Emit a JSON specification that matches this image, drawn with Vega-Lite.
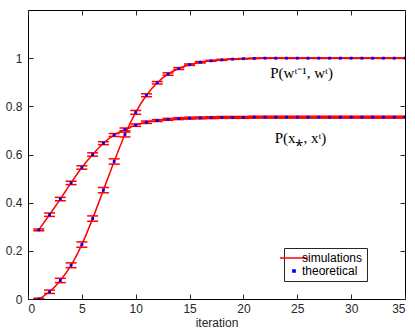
{
  "$schema": "https://vega.github.io/schema/vega-lite/v6.json",
  "autosize": "none",
  "width": 377,
  "height": 289,
  "padding": {"left": 28, "top": 10, "right": 10, "bottom": 36},
  "background": "white",
  "config": {
    "view": {"stroke": "black", "strokeWidth": 1},
    "axis": {"labelFont": "Liberation Sans", "labelFontSize": 12, "labelColor": "#262626", "titleFont": "Liberation Sans", "titleFontSize": 12, "titleFontWeight": "normal", "titleColor": "#262626", "domainColor": "#262626", "tickColor": "#262626", "grid": false}
  },
  "datasets": {
    "sim": [
    {"it":1,"s":"A","v":0.287,"lo":0.283,"hi":0.291},
    {"it":2,"s":"A","v":0.350,"lo":0.343,"hi":0.357},
    {"it":3,"s":"A","v":0.415,"lo":0.408,"hi":0.422},
    {"it":4,"s":"A","v":0.482,"lo":0.475,"hi":0.489},
    {"it":5,"s":"A","v":0.546,"lo":0.539,"hi":0.553},
    {"it":6,"s":"A","v":0.600,"lo":0.593,"hi":0.607},
    {"it":7,"s":"A","v":0.647,"lo":0.641,"hi":0.653},
    {"it":8,"s":"A","v":0.681,"lo":0.675,"hi":0.687},
    {"it":9,"s":"A","v":0.704,"lo":0.698,"hi":0.710},
    {"it":10,"s":"A","v":0.722,"lo":0.717,"hi":0.727},
    {"it":11,"s":"A","v":0.734,"lo":0.729,"hi":0.739},
    {"it":12,"s":"A","v":0.741,"lo":0.737,"hi":0.745},
    {"it":13,"s":"A","v":0.746,"lo":0.742,"hi":0.750},
    {"it":14,"s":"A","v":0.749,"lo":0.745,"hi":0.753},
    {"it":15,"s":"A","v":0.751,"lo":0.747,"hi":0.755},
    {"it":16,"s":"A","v":0.752,"lo":0.748,"hi":0.756},
    {"it":17,"s":"A","v":0.753,"lo":0.749,"hi":0.757},
    {"it":18,"s":"A","v":0.754,"lo":0.750,"hi":0.758},
    {"it":19,"s":"A","v":0.754,"lo":0.750,"hi":0.758},
    {"it":20,"s":"A","v":0.754,"lo":0.750,"hi":0.758},
    {"it":21,"s":"A","v":0.755,"lo":0.751,"hi":0.759},
    {"it":22,"s":"A","v":0.755,"lo":0.751,"hi":0.759},
    {"it":23,"s":"A","v":0.755,"lo":0.751,"hi":0.759},
    {"it":24,"s":"A","v":0.755,"lo":0.751,"hi":0.759},
    {"it":25,"s":"A","v":0.755,"lo":0.751,"hi":0.759},
    {"it":26,"s":"A","v":0.755,"lo":0.751,"hi":0.759},
    {"it":27,"s":"A","v":0.755,"lo":0.751,"hi":0.759},
    {"it":28,"s":"A","v":0.755,"lo":0.751,"hi":0.759},
    {"it":29,"s":"A","v":0.755,"lo":0.751,"hi":0.759},
    {"it":30,"s":"A","v":0.755,"lo":0.751,"hi":0.759},
    {"it":31,"s":"A","v":0.755,"lo":0.751,"hi":0.759},
    {"it":32,"s":"A","v":0.755,"lo":0.751,"hi":0.759},
    {"it":33,"s":"A","v":0.755,"lo":0.751,"hi":0.759},
    {"it":34,"s":"A","v":0.755,"lo":0.751,"hi":0.759},
    {"it":35,"s":"A","v":0.755,"lo":0.751,"hi":0.759},
    {"it":1,"s":"B","v":0.000,"lo":-0.003,"hi":0.003},
    {"it":2,"s":"B","v":0.030,"lo":0.023,"hi":0.037},
    {"it":3,"s":"B","v":0.077,"lo":0.068,"hi":0.086},
    {"it":4,"s":"B","v":0.140,"lo":0.130,"hi":0.150},
    {"it":5,"s":"B","v":0.226,"lo":0.215,"hi":0.237},
    {"it":6,"s":"B","v":0.334,"lo":0.323,"hi":0.345},
    {"it":7,"s":"B","v":0.452,"lo":0.441,"hi":0.463},
    {"it":8,"s":"B","v":0.571,"lo":0.560,"hi":0.582},
    {"it":9,"s":"B","v":0.683,"lo":0.673,"hi":0.693},
    {"it":10,"s":"B","v":0.775,"lo":0.767,"hi":0.783},
    {"it":11,"s":"B","v":0.846,"lo":0.840,"hi":0.852},
    {"it":12,"s":"B","v":0.898,"lo":0.893,"hi":0.903},
    {"it":13,"s":"B","v":0.934,"lo":0.929,"hi":0.939},
    {"it":14,"s":"B","v":0.957,"lo":0.953,"hi":0.961},
    {"it":15,"s":"B","v":0.973,"lo":0.970,"hi":0.976},
    {"it":16,"s":"B","v":0.983,"lo":0.980,"hi":0.986},
    {"it":17,"s":"B","v":0.989,"lo":0.987,"hi":0.991},
    {"it":18,"s":"B","v":0.993,"lo":0.991,"hi":0.995},
    {"it":19,"s":"B","v":0.996,"lo":0.995,"hi":0.997},
    {"it":20,"s":"B","v":0.998,"lo":0.997,"hi":0.999},
    {"it":21,"s":"B","v":0.999,"lo":0.998,"hi":1.000},
    {"it":22,"s":"B","v":1.000,"lo":0.999,"hi":1.001},
    {"it":23,"s":"B","v":1.000,"lo":0.999,"hi":1.001},
    {"it":24,"s":"B","v":1.000,"lo":0.999,"hi":1.001},
    {"it":25,"s":"B","v":1.000,"lo":0.999,"hi":1.001},
    {"it":26,"s":"B","v":1.000,"lo":0.999,"hi":1.001},
    {"it":27,"s":"B","v":1.000,"lo":0.999,"hi":1.001},
    {"it":28,"s":"B","v":1.000,"lo":0.999,"hi":1.001},
    {"it":29,"s":"B","v":1.000,"lo":0.999,"hi":1.001},
    {"it":30,"s":"B","v":1.000,"lo":0.999,"hi":1.001},
    {"it":31,"s":"B","v":1.000,"lo":0.999,"hi":1.001},
    {"it":32,"s":"B","v":1.000,"lo":0.999,"hi":1.001},
    {"it":33,"s":"B","v":1.000,"lo":0.999,"hi":1.001},
    {"it":34,"s":"B","v":1.000,"lo":0.999,"hi":1.001},
    {"it":35,"s":"B","v":1.000,"lo":0.999,"hi":1.001}
    ],
    "labels": [
      {"it": 25.4, "v": 0.937, "label": "P(wᵗ⁻¹, wᵗ)"},
      {"it": 25.3, "v": 0.67, "label": "P(x⁎, xᵗ)"}
    ]
  },
  "resolve": {"axis": {"x": "independent", "y": "independent"}},
  "layer": [
    {
      "data": {"name": "sim"},
      "mark": {"type": "rule", "color": "#ff0000", "strokeWidth": 1, "clip": true},
      "encoding": {
        "x": {"field": "it", "type": "quantitative", "scale": {"domain": [0, 35]}, "axis": null},
        "y": {"field": "lo", "type": "quantitative", "scale": {"domain": [0, 1.2]}, "axis": null},
        "y2": {"field": "hi"}
      }
    },
    {
      "data": {"name": "sim"},
      "mark": {"type": "tick", "orient": "horizontal", "color": "#ff0000", "size": 11, "thickness": 1.5, "opacity": 1, "clip": true},
      "encoding": {
        "x": {"field": "it", "type": "quantitative", "axis": null},
        "y": {"field": "lo", "type": "quantitative", "axis": null}
      }
    },
    {
      "data": {"name": "sim"},
      "mark": {"type": "tick", "orient": "horizontal", "color": "#ff0000", "size": 11, "thickness": 1.5, "opacity": 1, "clip": true},
      "encoding": {
        "x": {"field": "it", "type": "quantitative", "axis": null},
        "y": {"field": "hi", "type": "quantitative", "axis": null}
      }
    },
    {
      "data": {"name": "sim"},
      "mark": {"type": "line", "strokeWidth": 1.5, "interpolate": "monotone", "clip": true},
      "encoding": {
        "x": {"field": "it", "type": "quantitative", "title": "iteration",
              "axis": {"values": [0,5,10,15,20,25,30,35], "tickSize": -5, "labelPadding": 9, "titleBaseline": "top", "titleY": 18, "domain": false}},
        "y": {"field": "v", "type": "quantitative", "title": null,
              "axis": {"values": [0,0.2,0.4,0.6,0.8,1], "labelExpr": "format(datum.value, '~g')", "tickSize": -5, "labelPadding": 11, "domain": false}},
        "detail": {"field": "s"},
        "color": {"datum": "simulations", "type": "nominal",
          "scale": {"domain": ["simulations", "theoretical"], "range": ["#ff0000", "#0000ff"]},
          "legend": {
            "title": null, "orient": "none", "legendX": 256, "legendY": 238,
            "fillColor": "white", "strokeColor": "#262626", "padding": 4,
            "labelFont": "Liberation Sans", "labelFontSize": 12, "labelColor": "#000",
            "symbolType": "stroke", "symbolSize": 784,
            "rowPadding": 1, "symbolOffset": 0, "labelOffset": 2,
            "encode": {
              "symbols": {"update": {
                "shape": {"signal": "datum.value == 'simulations' ? 'stroke' : 'square'"},
                "size": {"signal": "datum.value == 'simulations' ? 784 : 5"},
                "fill": {"signal": "datum.value == 'simulations' ? 'transparent' : '#0000ff'"},
                "stroke": {"signal": "datum.value == 'simulations' ? '#ff0000' : 'transparent'"},
                "strokeWidth": {"value": 1.5}
              }}
            }
          }
        }
      }
    },
    {
      "data": {"name": "sim"},
      "mark": {"type": "point", "shape": "square", "filled": true, "size": 8, "opacity": 1, "clip": true},
      "encoding": {
        "x": {"field": "it", "type": "quantitative",
              "axis": {"orient": "top", "values": [0,5,10,15,20,25,30,35], "labels": false, "tickSize": -5, "title": null, "domain": false}},
        "y": {"field": "v", "type": "quantitative",
              "axis": {"orient": "right", "values": [0,0.2,0.4,0.6,0.8,1], "labels": false, "tickSize": -5, "title": null, "domain": false}},
        "color": {"datum": "theoretical", "type": "nominal"}
      }
    },
    {
      "data": {"name": "labels"},
      "mark": {"type": "text", "font": "Liberation Serif", "fontSize": 15, "fontWeight": "normal", "color": "#000"},
      "encoding": {
        "x": {"field": "it", "type": "quantitative", "axis": null},
        "y": {"field": "v", "type": "quantitative", "axis": null},
        "text": {"field": "label"}
      }
    }
  ]
}
